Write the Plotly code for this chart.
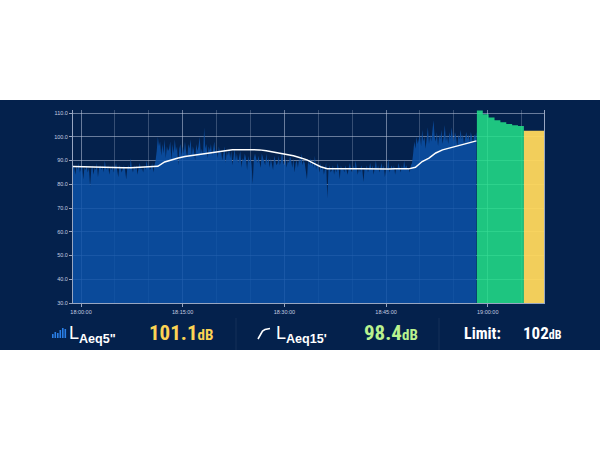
import plotly.graph_objects as go
import pandas as pd

DATE = "2024-05-14 "

# LAeq 5" history (10 s samples) starting 17:58:20
LAEQ5_START = "17:58:20"
LAEQ5_STEP = "10s"
LAEQ5_VALUES = [
    86, 87, 85, 88,
    87, 84, 88, 86, 89, 85,     # 17:59
    87, 88, 82, 87, 86, 88,     # 18:00
    85, 87, 79, 86, 88, 84,
    87, 86, 89, 83, 87, 88,
    86, 88, 85, 90, 87, 86,
    88, 84, 87, 86, 88, 85,
    87, 89, 86, 83, 88, 87,     # 18:05
    85, 87, 88, 86, 82, 87,
    88, 86, 91, 87, 85, 88,
    86, 88, 84, 87, 89, 86,
    87, 85, 88, 86, 90, 87,
    88, 86, 87, 89, 85, 88,     # 18:10
    90, 94, 100, 96, 98, 92,
    97, 93, 99, 91, 96, 94,
    95, 98, 90, 97, 93, 99,
    94, 96, 88, 95, 97, 92,
    96, 93, 98, 94, 91, 97,     # 18:15
    95, 99, 92, 96, 94, 90,
    97, 94, 96, 100, 93, 95,
    92, 104, 95, 97, 91, 96,
    94, 97, 92, 95, 98, 93,
    95, 91, 96, 93, 94, 90,     # 18:20
    93, 96, 89, 94, 92, 95,
    91, 94, 88, 92, 95, 90,
    93, 89, 92, 94, 87, 91,
    90, 93, 91, 86, 92, 89,
    92, 88, 80, 91, 93, 90,     # 18:25
    89, 92, 90, 87, 93, 91,
    90, 88, 93, 89, 91, 87,
    91, 89, 86, 92, 90, 88,
    89, 92, 88, 90, 94, 89,
    88, 91, 87, 90, 89, 92,     # 18:30
    90, 87, 91, 85, 89, 90,
    87, 91, 89, 93, 88, 90,
    89, 86, 82, 90, 88, 91,
    88, 90, 87, 92, 86, 89,
    87, 85, 89, 86, 88, 84,     # 18:35
    87, 89, 74, 86, 88, 85,
    86, 88, 84, 87, 85, 89,
    87, 82, 88, 86, 87, 85,
    88, 86, 84, 87, 89, 86,
    85, 88, 86, 90, 87, 84,     # 18:40
    87, 85, 88, 86, 81, 87,
    86, 88, 85, 87, 89, 86,
    88, 84, 87, 90, 86, 88,
    85, 87, 89, 86, 88, 83,
    87, 86, 91, 85, 87, 88,     # 18:45
    86, 88, 84, 87, 86, 89,
    87, 85, 88, 86, 90, 87,
    88, 86, 87, 85, 88, 89,
    93, 98, 95, 100, 97, 99,
    101, 96, 103, 98, 100, 95,  # 18:50
    99, 104, 97, 101, 98, 102,
    107, 100, 98, 102, 96, 101,
    99, 103, 97, 100, 105, 98,
    101, 97, 102, 99, 104, 100,
    98, 102, 100, 96, 101, 99,  # 18:55
    103, 99, 101, 97, 100, 102,
    99, 101, 98, 102, 100, 97,
    101, 100, 102,
]

# LAeq 15' running value (1 min samples) starting 17:58:20
LAEQ15_START = "17:58:20"
LAEQ15_STEP = "1min"
LAEQ15_VALUES = [
    87.5, 87.4, 87.3, 87.3, 87.2, 87.1, 87.0, 87.0, 87.0, 87.0,
    87.1, 87.1, 87.2, 87.6, 89.4, 90.4, 91.1, 91.7, 92.1, 92.6,
    93.1, 93.6, 94.0, 94.4, 94.6, 94.6, 94.6, 94.6, 94.5, 94.1,
    93.6, 93.1, 92.6, 92.0, 91.2, 90.3, 88.8, 87.4, 86.6, 86.5,
    86.5, 86.4, 86.5, 86.5, 86.4, 86.5, 86.5, 86.4, 86.5, 86.5,
    86.5, 87.2, 89.6, 91.0, 93.2, 94.5, 95.2, 95.9, 96.7, 97.5,
    98.3,
]

# current (projected) LAeq steps
CURRENT_TIMES = ["18:58:24", "18:59:16", "19:00:08", "19:01:00", "19:01:52",
                 "19:02:44", "19:03:36", "19:04:28", "19:05:20"]
CURRENT_VALUES = [111.1, 109.5, 108.1, 107.0, 106.1, 105.4, 104.9, 104.6, 104.6]

# limit
LIMIT_TIMES = ["19:05:20", "19:08:30"]
LIMIT_VALUES = [102.6, 102.6]

X_RANGE = ["17:58:49", "19:08:18"]
Y_RANGE = [30, 111.3]
Y_TICKS = [30, 40, 50, 60, 70, 80, 90, 100, 110]

READ_LAEQ5 = "101.1"
READ_LAEQ15 = "98.4"
READ_LIMIT = "102"

# ---------------------------------------------------------------
W, H = 600, 450
ML, MR, MT, MB = 73, 56, 110, 147
PW, PH = W - ML - MR, H - MT - MB
NAVY = "#04214c"
GRID = "rgba(190,200,222,0.55)"
GRID_MINOR = "rgba(190,200,222,0.28)"
TICKFONT = dict(family="Liberation Sans, Arial, sans-serif", size=5.5, color="#c4cde0")
NARROW = "Liberation Sans Narrow, Arial Narrow, Roboto Condensed, Liberation Sans, sans-serif"


def P(x, y):
    return (x - ML) / PW, (H - MB - y) / PH


t5 = pd.date_range(DATE + LAEQ5_START, periods=len(LAEQ5_VALUES), freq=LAEQ5_STEP)
t15 = pd.date_range(DATE + LAEQ15_START, periods=len(LAEQ15_VALUES), freq=LAEQ15_STEP)

fig = go.Figure()
fig.add_trace(go.Scatter(x=t5, y=LAEQ5_VALUES, mode="lines", line=dict(width=0, color="rgba(12,81,168,0.85)"),
                         fill="tozeroy", fillcolor="rgba(12,81,168,0.86)", hoverinfo="skip"))
fig.add_trace(go.Scatter(x=t15, y=LAEQ15_VALUES, mode="lines", line=dict(width=1.5, color="white"),
                         hoverinfo="skip"))
fig.add_trace(go.Scatter(x=[DATE + t for t in CURRENT_TIMES], y=CURRENT_VALUES, mode="lines",
                         line=dict(width=0, shape="hv", color="rgba(35,225,137,0.86)"),
                         fill="tozeroy", fillcolor="rgba(35,225,137,0.86)", hoverinfo="skip"))
fig.add_trace(go.Scatter(x=[DATE + t for t in LIMIT_TIMES], y=LIMIT_VALUES, mode="lines",
                         line=dict(width=0, shape="hv", color="rgba(255,216,92,0.95)"),
                         fill="tozeroy", fillcolor="rgba(255,216,92,0.95)", hoverinfo="skip"))

fig.update_layout(
    width=W, height=H, showlegend=False,
    margin=dict(l=ML, r=MR, t=MT, b=MB, pad=0),
    paper_bgcolor="white", plot_bgcolor=NAVY,
    xaxis=dict(type="date", range=[DATE + X_RANGE[0], DATE + X_RANGE[1]],
               tick0=DATE + "18:00:00", dtick=15 * 60 * 1000, tickformat="%H:%M:%S",
               showgrid=True, gridcolor=GRID, gridwidth=1,
               minor=dict(tick0=DATE + "18:00:00", dtick=5 * 60 * 1000, showgrid=True,
                          gridcolor=GRID_MINOR, gridwidth=1),
               ticks="outside", ticklen=3, tickcolor="rgba(190,200,222,0.8)",
               showline=True, linecolor="rgba(190,200,222,0.8)", linewidth=1,
               tickfont=TICKFONT, zeroline=False),
    yaxis=dict(range=Y_RANGE, tickvals=Y_TICKS, tickformat=".1f",
               showgrid=True, gridcolor=GRID, gridwidth=1,
               ticks="outside", ticklen=3, tickcolor="rgba(190,200,222,0.8)",
               showline=True, mirror=True, linecolor="rgba(190,200,222,0.8)", linewidth=1,
               tickfont=TICKFONT, zeroline=False),
)

shapes = []
x0, y0 = P(0, 350)
x1, y1 = P(600, 100)
shapes.append(dict(type="rect", xref="paper", yref="paper", x0=x0, y0=y0, x1=x1, y1=y1,
                   fillcolor=NAVY, line=dict(width=0), layer="below"))
# dividers in readout strip
for dx in (236, 439):
    a, b = P(dx, 318)
    c, d = P(dx, 350)
    shapes.append(dict(type="line", xref="paper", yref="paper", x0=a, y0=b, x1=c, y1=d,
                       line=dict(color="rgba(255,255,255,0.07)", width=1), layer="above"))
# bar icon
for i, hgt in enumerate([4, 6, 5, 8, 10, 9]):
    bx = 52 + i * 2.5
    a, b = P(bx, 338)
    c, d = P(bx + 1.6, 338 - hgt)
    shapes.append(dict(type="rect", xref="paper", yref="paper", x0=a, y0=b, x1=c, y1=d,
                       fillcolor="#2a7fe6", line=dict(width=0), layer="above"))
# line icon
pts = [P(258, 339), P(262.5, 331), P(265, 329.5), P(270, 328.5)]
path = "M " + " L ".join(f"{px:.5f},{py:.5f}" for px, py in pts)
shapes.append(dict(type="path", xref="paper", yref="paper", path=path,
                   line=dict(color="white", width=1.6), layer="above"))
fig.update_layout(shapes=shapes)

ann = []


def add_text(x, y, text, size, color, family=NARROW, anchor="left"):
    px, py = P(x, y)
    ann.append(dict(xref="paper", yref="paper", x=px, y=py, xanchor=anchor, yanchor="middle",
                    text=text, showarrow=False, font=dict(family=family, size=size, color=color)))


add_text(67, 334, 'L<sub><b>Aeq5"</b></sub>', 18, "white", family="Liberation Sans, Arial, sans-serif")
add_text(147, 333, f"<b>{READ_LAEQ5}</b><span style='font-size:15px'><b>dB</b></span>", 21, "#fcd354")
add_text(274, 334, "L<sub><b>Aeq15'</b></sub>", 18, "white", family="Liberation Sans, Arial, sans-serif")
add_text(362, 333, f"<b>{READ_LAEQ15}</b><span style='font-size:15px'><b>dB</b></span>", 21, "#b9f28f")
add_text(462, 333, "<b>Limit:</b>", 16, "white")
add_text(521, 333, f"<b>{READ_LIMIT}</b><span style='font-size:12px'><b>dB</b></span>", 17, "white")
fig.update_layout(annotations=ann)

fig.write_html("out.html", config={"displayModeBar": False},
               post_script="document.body.style.margin='0px';")
